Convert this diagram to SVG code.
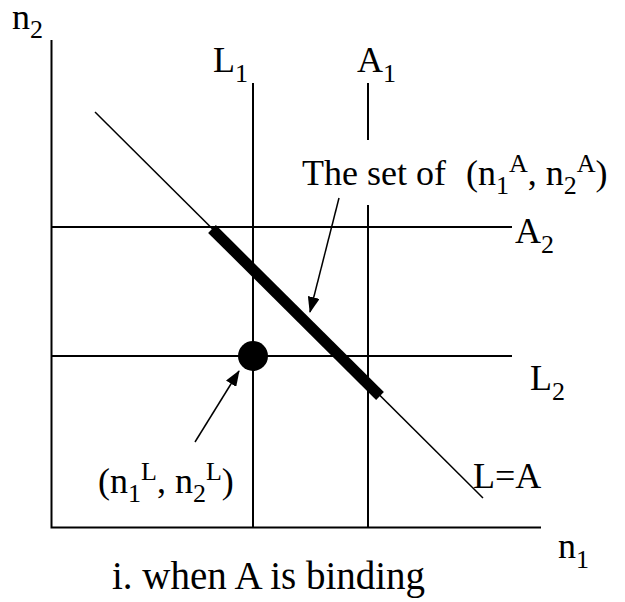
<svg xmlns="http://www.w3.org/2000/svg" width="625" height="602" viewBox="0 0 625 602">
<style>
text{font-family:"Liberation Serif","Times New Roman",serif;font-size:36px;fill:#000}
.s{font-size:26px}
.cap{font-size:39px}
.ln{stroke:#000;stroke-width:2;fill:none}
.thin{stroke:#000;stroke-width:1.5;fill:none}
.arr{stroke:#000;stroke-width:1.5;fill:none;marker-end:url(#ah)}
</style>
<defs>
<marker id="ah" viewBox="0 0 16 12" refX="15" refY="6" markerWidth="16" markerHeight="12" markerUnits="userSpaceOnUse" orient="auto">
<path d="M0,0 L16,6 L0,12 Z" fill="#000"/>
</marker>
</defs>
<rect width="625" height="602" fill="#fff"/>
<g id="axes">
<path class="ln" d="M51.5,40 V527.5 H541"/>
</g>
<g id="connectors">
<path class="ln" d="M253,83 V527"/>
<path class="ln" d="M368,83 V140"/>
<path class="ln" d="M368,205 V527"/>
<path class="ln" d="M51,227 H512"/>
<path class="ln" d="M51,356 H512"/>
<path class="thin" d="M95,112 L483,498"/>
<path d="M212,229 L380,396" stroke="#000" stroke-width="11" fill="none"/>
<path class="arr" d="M339,198 L310,312"/>
<path class="arr" d="M195,442 L239,371"/>
</g>
<g id="point">
<circle cx="253" cy="356" r="15" fill="#000"/>
</g>
<g id="labels">
<text x="12" y="29">n<tspan class="s" dy="9">2</tspan></text>
<text x="213" y="72">L<tspan class="s" dy="10">1</tspan></text>
<text x="357" y="72">A<tspan class="s" dy="10">1</tspan></text>
<text x="302" y="185">The set of<tspan dx="20">(n</tspan><tspan class="s" dy="9">1</tspan><tspan class="s" dy="-22">A</tspan><tspan dy="13">, n</tspan><tspan class="s" dy="9">2</tspan><tspan class="s" dy="-22">A</tspan><tspan dy="13">)</tspan></text>
<text x="515" y="243">A<tspan class="s" dy="10">2</tspan></text>
<text x="530" y="390">L<tspan class="s" dy="10">2</tspan></text>
<text x="98" y="493">(n<tspan class="s" dy="9">1</tspan><tspan class="s" dy="-22">L</tspan><tspan dy="13">, n</tspan><tspan class="s" dy="9">2</tspan><tspan class="s" dy="-22">L</tspan><tspan dy="13">)</tspan></text>
<text x="473" y="488">L=A</text>
<text x="558" y="558">n<tspan class="s" dy="10">1</tspan></text>
<text class="cap" x="112" y="589">i. when A is binding</text>
</g>
</svg>
